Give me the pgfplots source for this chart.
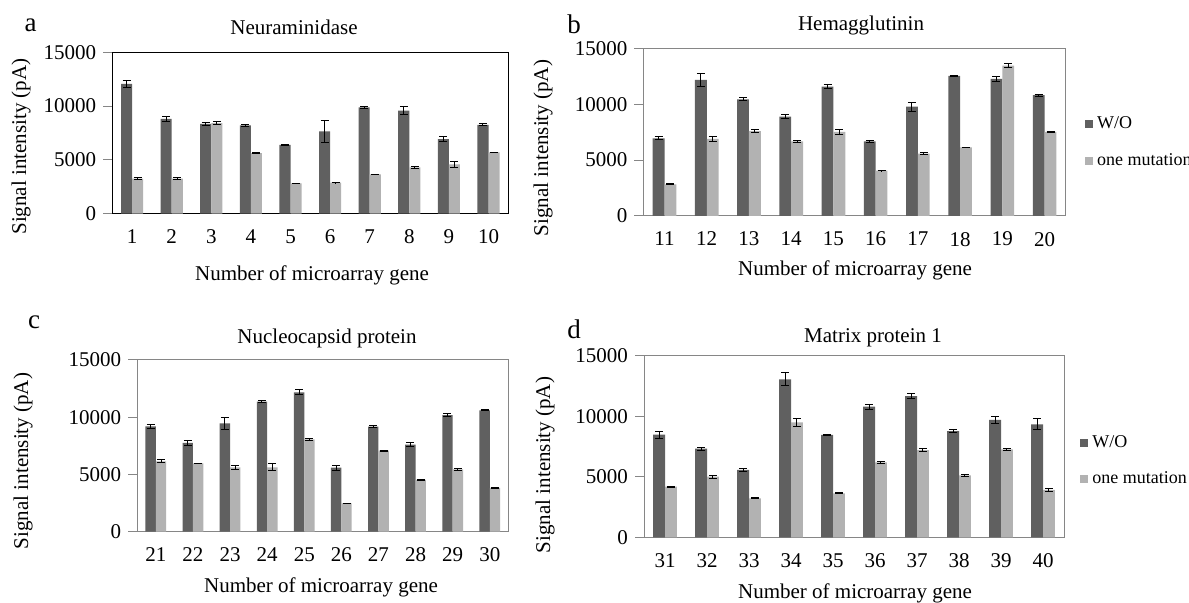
\documentclass[border=0pt]{standalone}
\usepackage{pgfplots}
\pgfplotsset{compat=1.18}
\usepackage{pgfplotstable}
\usepackage{fontspec}
\setmainfont{Liberation Serif}

\definecolor{wo}{RGB}{96,96,96}
\definecolor{onem}{RGB}{178,178,178}
\definecolor{frame}{RGB}{134,134,134}

% g = gene number, w/we = W/O mean and error, m/me = one mutation mean and error
\pgfplotstableread{
g w we m me
1 12060 300 3250 80
2 8810 250 3250 100
3 8350 150 8410 150
4 8200 100 5630 50
5 6400 30 2810 20
6 7640 1000 2880 20
7 9870 50 3650 30
8 9590 350 4300 100
9 6930 250 4580 250
10 8260 100 5690 30
}\tabA
\pgfplotstableread{
g w we m me
11 6950 150 2830 50
12 12170 600 6890 250
13 10440 150 7600 100
14 8890 150 6680 100
15 11570 200 7520 200
16 6680 100 4060 30
17 9780 400 5580 100
18 12530 50 6140 30
19 12260 200 13450 200
20 10800 100 7520 80
}\tabB
\pgfplotstableread{
g w we m me
21 9200 150 6150 120
22 7750 200 5970 30
23 9470 550 5620 200
24 11360 100 5620 300
25 12180 200 8070 80
26 5590 200 2480 20
27 9180 80 7080 30
28 7600 150 4520 50
29 10190 150 5450 80
30 10600 50 3820 80
}\tabC
\pgfplotstableread{
g w we m me
31 8480 300 4180 30
32 7320 120 5010 120
33 5560 130 3220 50
34 13050 550 9500 350
35 8450 50 3630 50
36 10790 200 6190 100
37 11670 200 7210 150
38 8780 150 5120 100
39 9690 250 7270 100
40 9330 450 3910 120
}\tabD

\pgfplotsset{
  panel/.style={
    scale only axis, anchor=south west,
    ymin=0, ymax=15000, ytick={0,5000,10000,15000},
    scaled y ticks=false,
    enlargelimits=false,
    ytick pos=left, xtick pos=bottom,
    tick align=outside, major tick length=4.5pt,
    xtick style={draw=none}, ytick style={frame, line width=0.5pt},
    axis line style={frame, line width=0.5pt},
    tick label style={font=\fontsize{10.5}{12}\selectfont},
    /pgf/number format/.cd, 1000 sep={}, assume math mode=true,
  },
  leg/.style={legend style={at={#1}, anchor=west, draw=none, fill=none,
    inner sep=0pt, row sep=7pt, font=\fontsize{9}{10}\selectfont},
    legend cell align=left},
  sq/.style={legend image code/.code={\fill[##1] (0pt,-2pt) rectangle (4pt,2pt);}},
  errs/.style={error bars/.cd, y dir=both, y explicit,
    error bar style={black, line width=0.5pt},
    error mark options={rotate=90, black, mark size=2pt, line width=0.5pt}},
}

\begin{document}
\begin{tikzpicture}
\path[use as bounding box] (0,0) rectangle (594.5pt,-301.5pt);

% a
\begin{axis}[panel, at={(56.15pt,-106.85pt)}, width=198pt, height=80.7pt,
  xmin=0.5, xmax=10.5, xtick={1,...,10}, axis line style={black, line width=0.6pt}]
\addplot[ybar, bar width=0.28, bar shift=0pt, fill=wo, draw=none, errs] table[x expr=\thisrow{g}-0.14, y=w, y error=we] {\tabA};
\addplot[ybar, bar width=0.28, bar shift=0pt, fill=onem, draw=none, errs] table[x expr=\thisrow{g}+0.14, y=m, y error=me] {\tabA};
\end{axis}

% b
\begin{axis}[panel, at={(321.7pt,-108pt)}, width=211.15pt, height=83.85pt,
  xmin=10.5, xmax=20.5, xtick={11,...,20}, leg={(axis description cs:1.045,0.438)}]
\addplot[ybar, bar width=0.28, bar shift=0pt, fill=wo, draw=none, sq, errs] table[x expr=\thisrow{g}-0.14, y=w, y error=we] {\tabB};
\addlegendentry{W/O}
\addplot[ybar, bar width=0.28, bar shift=0pt, fill=onem, draw=none, sq, errs] table[x expr=\thisrow{g}+0.14, y=m, y error=me] {\tabB};
\addlegendentry{one mutation}
\end{axis}

% c
\begin{axis}[panel, at={(68.65pt,-265.85pt)}, width=185.5pt, height=85.85pt,
  xmin=20.5, xmax=30.5, xtick={21,...,30}]
\addplot[ybar, bar width=0.28, bar shift=0pt, fill=wo, draw=none, errs] table[x expr=\thisrow{g}-0.14, y=w, y error=we] {\tabC};
\addplot[ybar, bar width=0.28, bar shift=0pt, fill=onem, draw=none, errs] table[x expr=\thisrow{g}+0.14, y=m, y error=me] {\tabC};
\end{axis}

% d
\begin{axis}[panel, at={(322pt,-268.65pt)}, width=210pt, height=90.8pt,
  xmin=30.5, xmax=40.5, xtick={31,...,40}, leg={(axis description cs:1.038,0.42)}]
\addplot[ybar, bar width=0.28, bar shift=0pt, fill=wo, draw=none, sq, errs] table[x expr=\thisrow{g}-0.14, y=w, y error=we] {\tabD};
\addlegendentry{W/O}
\addplot[ybar, bar width=0.28, bar shift=0pt, fill=onem, draw=none, sq, errs] table[x expr=\thisrow{g}+0.14, y=m, y error=me] {\tabD};
\addlegendentry{one mutation}
\end{axis}

% panel letters, titles and axis labels
\begin{scope}[every node/.style={font=\fontsize{10.5}{12}\selectfont, inner sep=0pt}]
\node[font=\fontsize{13.5}{15}\selectfont] at (15.3pt,-12.5pt) {a};
\node[font=\fontsize{13.5}{15}\selectfont] at (287pt,-12pt) {b};
\node[font=\fontsize{13.5}{15}\selectfont] at (17pt,-161pt) {c};
\node[font=\fontsize{13.5}{15}\selectfont] at (287pt,-164.5pt) {d};
\node at (147pt,-13.85pt) {Neuraminidase};
\node at (430.5pt,-12.5pt) {Hemagglutinin};
\node at (163.5pt,-169pt) {Nucleocapsid protein};
\node at (436.5pt,-169pt) {Matrix protein 1};
\node[rotate=90] at (10.5pt,-73.25pt) {Signal intensity (pA)};
\node[rotate=90] at (271.5pt,-74pt) {Signal intensity (pA)};
\node[rotate=90] at (11.5pt,-230.5pt) {Signal intensity (pA)};
\node[rotate=90] at (272.5pt,-232.5pt) {Signal intensity (pA)};
\node at (156pt,-137.5pt) {Number of microarray gene};
\node at (427.5pt,-135pt) {Number of microarray gene};
\node at (160.5pt,-293.5pt) {Number of microarray gene};
\node at (427.5pt,-296.5pt) {Number of microarray gene};
\end{scope}
\end{tikzpicture}
\end{document}
